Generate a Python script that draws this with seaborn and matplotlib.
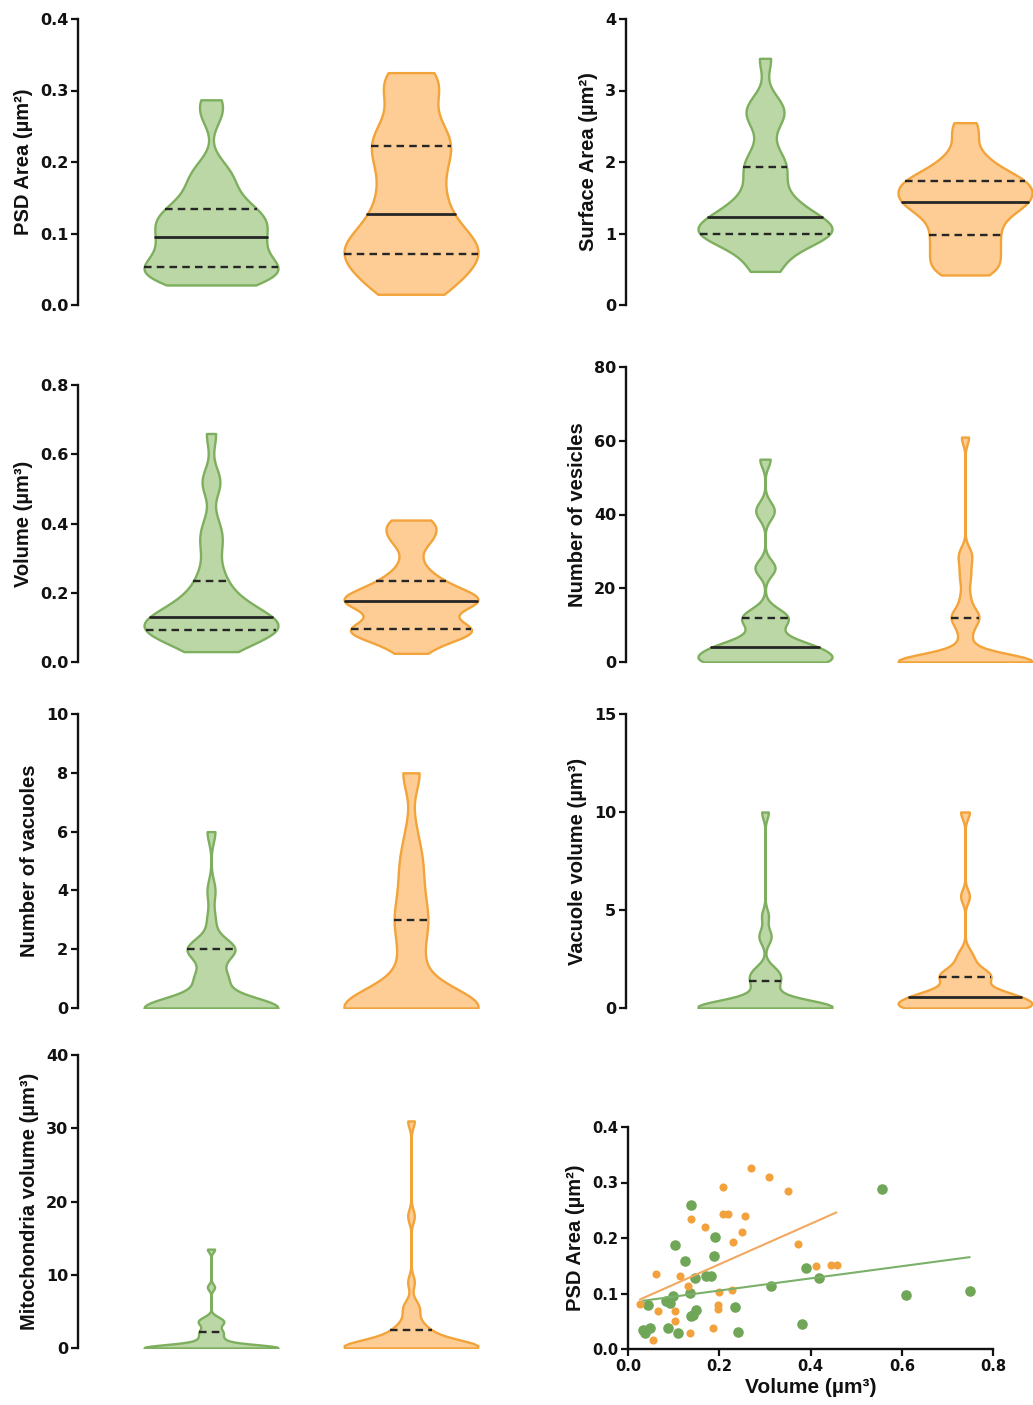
import numpy as np
import pandas as pd
import matplotlib
matplotlib.use("Agg")
import matplotlib.pyplot as plt
import seaborn as sns

# ---------------- data ----------------
groups = ["Group 1", "Group 2"]

psd_g = [0.028, 0.03, 0.035, 0.04, 0.045, 0.048, 0.05, 0.052, 0.055, 0.06, 0.07, 0.078,
         0.082, 0.086, 0.09, 0.1, 0.105, 0.11, 0.115, 0.12, 0.125, 0.13, 0.135, 0.145,
         0.155, 0.17, 0.18, 0.195, 0.265, 0.287]
psd_o = [0.015, 0.02, 0.03, 0.04, 0.05, 0.058, 0.065, 0.07, 0.075, 0.08, 0.085, 0.092,
         0.1, 0.11, 0.12, 0.135, 0.145, 0.16, 0.175, 0.19, 0.205, 0.215, 0.225, 0.235,
         0.245, 0.26, 0.29, 0.305, 0.318, 0.325]

surf_g = [0.47, 0.55, 0.72, 0.85, 0.92, 0.96, 0.98, 0.99, 1.0, 1.02, 1.05, 1.08, 1.12,
          1.18, 1.22, 1.25, 1.3, 1.38, 1.45, 1.55, 1.7, 1.85, 1.95, 2.0, 2.2, 2.55, 2.65,
          2.75, 2.85, 3.45]
surf_o = [0.42, 0.48, 0.56, 0.64, 0.72, 0.8, 0.88, 0.96, 1.04, 1.12, 1.2, 1.27, 1.33,
          1.38, 1.42, 1.45, 1.5, 1.54, 1.58, 1.62, 1.66, 1.7, 1.75, 1.78, 1.83, 1.9, 2.0,
          2.12, 2.35, 2.55]

vol_g = [0.03, 0.045, 0.06, 0.07, 0.08, 0.085, 0.085, 0.09, 0.095, 0.10, 0.105, 0.11,
         0.115, 0.12, 0.125, 0.135, 0.14, 0.15, 0.16, 0.175, 0.19, 0.21, 0.24, 0.27,
         0.33, 0.36, 0.40, 0.51, 0.53, 0.66]
vol_o = [0.025, 0.05, 0.07, 0.08, 0.085, 0.09, 0.09, 0.095, 0.10, 0.11, 0.13, 0.15, 0.16,
         0.17, 0.175, 0.175, 0.18, 0.185, 0.19, 0.2, 0.21, 0.22, 0.24, 0.25, 0.29, 0.34,
         0.36, 0.38, 0.40, 0.41]

ves_g = [0] * 9 + [2, 2, 3, 3, 4, 4, 4, 4, 5, 6, 8, 10, 12, 12, 12, 14, 25, 26, 40, 42, 55]
ves_o = [0] * 17 + [1, 2, 3, 5, 8, 10, 12, 12, 13, 15, 18, 22, 25, 28, 30, 61]

vac_g = [0] * 17 + [1] * 4 + [2] * 6 + [3, 4, 6]
vac_o = [0] * 16 + [1] * 2 + [2] * 2 + [3] * 3 + [4] * 2 + [5] * 2 + [6] + [8] * 2

vacvol_g = [0] * 17 + [0.1, 0.2, 0.3, 0.5, 0.7, 0.9, 1.2, 1.4, 1.5, 1.7, 1.9, 2.0,
                       3.5, 3.8, 4.7, 10.0]
vacvol_o = [0] * 9 + [0.1, 0.2, 0.3, 0.4, 0.5, 0.5, 0.55, 0.6, 0.6, 0.7, 0.8, 0.9, 1.0,
                      1.5, 1.6, 1.6, 1.6, 1.8, 2.0, 2.4, 2.8, 5.7, 10.0]

mito_g = [0] * 17 + [0.3, 0.5, 0.8, 1.0, 1.3, 1.6, 2.0, 2.2, 2.5, 3.0, 3.4, 3.6, 3.8,
                     4.2, 8.3, 13.5]
mito_o = [0] * 17 + [0.5, 0.8, 1.0, 1.2, 1.5, 1.8, 2.2, 2.5, 2.8, 3.5, 4.5, 5.5, 6.0,
                     9.0, 18.0, 31.0]

# scatter: Volume (x) vs PSD area (y)
sc_vol_g = [0.139, 0.102, 0.126, 0.19, 0.188, 0.146, 0.172, 0.183, 0.135, 0.084, 0.099,
            0.091, 0.044, 0.139, 0.150, 0.143, 0.088, 0.048, 0.037, 0.110, 0.234, 0.241,
            0.314, 0.390, 0.419, 0.382, 0.556, 0.610, 0.749, 0.033]
sc_psd_g = [0.259, 0.187, 0.158, 0.201, 0.168, 0.128, 0.131, 0.131, 0.101, 0.086, 0.095,
            0.083, 0.080, 0.059, 0.071, 0.062, 0.038, 0.038, 0.028, 0.028, 0.075, 0.030,
            0.113, 0.146, 0.128, 0.045, 0.289, 0.098, 0.105, 0.035]
sc_vol_o = [0.270, 0.308, 0.208, 0.351, 0.208, 0.219, 0.257, 0.137, 0.168, 0.249, 0.230,
            0.373, 0.061, 0.113, 0.413, 0.446, 0.457, 0.026, 0.066, 0.102, 0.102, 0.132,
            0.200, 0.227, 0.197, 0.197, 0.186, 0.135, 0.055]
sc_psd_o = [0.327, 0.310, 0.292, 0.285, 0.243, 0.243, 0.240, 0.235, 0.219, 0.211, 0.192,
            0.190, 0.135, 0.131, 0.150, 0.152, 0.152, 0.081, 0.068, 0.068, 0.050, 0.113,
            0.102, 0.107, 0.080, 0.072, 0.038, 0.028, 0.017]

# ---------------- style ----------------
GREEN_FILL, GREEN_EDGE = "#bcd7a6", "#7daf5f"
ORANGE_FILL, ORANGE_EDGE = "#fdcd95", "#f2a33a"
INNER = "#262626"
LABEL_FONT = ["Liberation Sans", "DejaVu Sans"]
TICK_FONT = ["DejaVu Sans"]

sns.set_style("ticks")
plt.rcParams["font.family"] = LABEL_FONT
plt.rcParams["font.weight"] = "bold"
plt.rcParams["axes.labelweight"] = "bold"
plt.rcParams["axes.labelcolor"] = "#111111"
plt.rcParams["text.color"] = "#111111"

fig = plt.figure(figsize=(10.33, 14.05), dpi=100)
W, H = 1033.0, 1405.0

def ax_px(x0, y_top, x1, y_bot):
    return fig.add_axes([x0 / W, 1 - y_bot / H, (x1 - x0) / W, (y_bot - y_top) / H])

def style_ticklabels(ax, size):
    for t in ax.get_xticklabels() + ax.get_yticklabels():
        t.set_fontfamily(TICK_FONT)
        t.set_fontweight("bold")
        t.set_fontsize(size)
        t.set_color("#111111")

panels = [
    ((78, 19, 520, 305), (-0.665, 1.545), psd_g, psd_o, (0, 0.4),
     [0.0, 0.1, 0.2, 0.3, 0.4], "PSD Area (µm²)", 0.55),
    ((626, 19, 1033, 305), (-0.695, 1.34), surf_g, surf_o, (0, 4),
     [0, 1, 2, 3, 4], "Surface Area (µm²)", 0.5),
    ((78, 385, 520, 662), (-0.665, 1.545), vol_g, vol_o, (0, 0.8),
     [0.0, 0.2, 0.4, 0.6, 0.8], "Volume (µm³)", 0.5),
    ((626, 367, 1033, 662), (-0.695, 1.34), ves_g, ves_o, (0, 80),
     [0, 20, 40, 60, 80], "Number of vesicles", 0.3),
    ((78, 714, 520, 1008), (-0.665, 1.545), vac_g, vac_o, (0, 10),
     [0, 2, 4, 6, 8, 10], "Number of vacuoles", 0.5),
    ((626, 714, 1033, 1008), (-0.695, 1.34), vacvol_g, vacvol_o, (0, 15),
     [0, 5, 10, 15], "Vacuole volume (µm³)", 0.35),
    ((78, 1055, 520, 1348), (-0.665, 1.545), mito_g, mito_o, (0, 40),
     [0, 10, 20, 30, 40], "Mitochondria volume (µm³)", 0.3),
]

for box, xlim, dg, do, ylim, yticks, label, bwa in panels:
    ax = ax_px(*box)
    df = pd.DataFrame({
        "group": [groups[0]] * len(dg) + [groups[1]] * len(do),
        "value": list(dg) + list(do),
    })
    sns.violinplot(data=df, x="group", y="value", hue="group", order=groups,
                   hue_order=groups, palette=[GREEN_FILL, ORANGE_FILL], legend=False,
                   cut=0, bw_adjust=bwa, density_norm="width", width=0.67,
                   inner="quart", linewidth=1.6, saturation=1,
                   inner_kws={"color": INNER, "linewidth": 1.7}, ax=ax)
    for coll, ec in zip(ax.collections, [GREEN_EDGE, ORANGE_EDGE]):
        coll.set_edgecolor(ec)
        coll.set_linewidth(1.7)
    for i, ln in enumerate(ax.lines):
        yv = ln.get_ydata()
        if np.isclose(yv[0], 0):
            ln.set_visible(False)
            continue
        if i % 3 == 1:
            ln.set_linestyle("-")
            ln.set_linewidth(2.0)
        else:
            ln.set_linestyle((0, (3.2, 2.2)))
    ax.set_xlim(*xlim)
    ax.set_ylim(*ylim)
    ax.set_yticks(yticks)
    ax.set_xlabel("")
    ax.set_ylabel(label, fontsize=14.5, fontweight="bold", labelpad=5)
    ax.set_xticks([])
    for s in ["top", "right", "bottom"]:
        ax.spines[s].set_visible(False)
    ax.spines["left"].set_linewidth(1.7)
    ax.spines["left"].set_color("#111111")
    ax.tick_params(axis="y", length=5, width=1.6, pad=2, colors="#111111")
    style_ticklabels(ax, 11.5)
    ax.patch.set_alpha(0)

# scatter panel
ax = ax_px(628, 1127, 993, 1349)
sns.regplot(x=np.array(sc_vol_g), y=np.array(sc_psd_g), ci=None, ax=ax,
            color="#70a657", scatter_kws={"s": 58, "alpha": 1, "linewidths": 0},
            line_kws={"linewidth": 1.5, "color": "#7bb06a"})
sns.regplot(x=np.array(sc_vol_o), y=np.array(sc_psd_o), ci=None, ax=ax,
            color="#f2a13c", scatter_kws={"s": 34, "alpha": 1, "linewidths": 0},
            line_kws={"linewidth": 1.5, "color": "#f2a860"})
ax.set_xlim(0, 0.8)
ax.set_ylim(0, 0.4)
ax.set_xticks([0.0, 0.2, 0.4, 0.6, 0.8])
ax.set_yticks([0.0, 0.1, 0.2, 0.3, 0.4])
ax.set_xlabel("Volume (µm³)", fontsize=15, fontweight="bold", labelpad=3)
ax.set_ylabel("PSD Area (µm²)", fontsize=14.5, fontweight="bold", labelpad=5)
for s in ["top", "right"]:
    ax.spines[s].set_visible(False)
for s in ["left", "bottom"]:
    ax.spines[s].set_linewidth(1.7)
    ax.spines[s].set_color("#111111")
ax.tick_params(length=5, width=1.6, pad=2, colors="#111111")
style_ticklabels(ax, 10.5)
ax.patch.set_alpha(0)

fig.savefig("out.png", dpi=100, facecolor="white")
